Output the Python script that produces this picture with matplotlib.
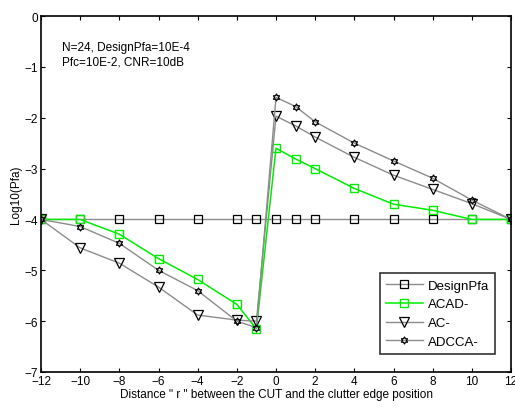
import numpy as np
import matplotlib
matplotlib.use('Agg')
import matplotlib.pyplot as plt
from matplotlib.path import Path

plt.rcParams['font.family'] = ['Liberation Sans', 'DejaVu Sans']

# distance r between CUT and clutter edge
r = [-12, -10, -8, -6, -4, -2, -1, 0, 1, 2, 4, 6, 8, 10, 12]

# log10(Pfa) for each detector
design_pfa = [-4, -4, -4, -4, -4, -4, -4, -4, -4, -4, -4, -4, -4, -4, -4]
acad = [-4.0, -4.0, -4.29, -4.77, -5.18, -5.67, -6.15, -2.6, -2.81, -3.0, -3.39, -3.7, -3.82, -4.0, -4.0]
ac = [-4.0, -4.56, -4.86, -5.33, -5.88, -5.98, -6.0, -1.97, -2.16, -2.38, -2.78, -3.13, -3.41, -3.69, -4.0]
adcca = [-4.0, -4.14, -4.47, -5.0, -5.4, -6.0, -6.13, -1.6, -1.78, -2.08, -2.5, -2.85, -3.19, -3.62, -4.0]

xticks = [-12, -10, -8, -6, -4, -2, 0, 2, 4, 6, 8, 10, 12]
yticks = [0, -1, -2, -3, -4, -5, -6, -7]

# six-point star (hexagram) marker outline
ang = np.pi / 2 + np.arange(12) * np.pi / 6
rad = np.where(np.arange(12) % 2 == 0, 1.0, 1 / np.sqrt(3))
verts = np.column_stack([rad * np.cos(ang), rad * np.sin(ang)])
verts = np.vstack([verts, verts[:1]])
hexagram = Path(verts, [Path.MOVETO] + [Path.LINETO] * 11 + [Path.CLOSEPOLY])

gray = '#8c8c8c'
green = '#00ee00'

fig = plt.figure(figsize=(5.15, 4.1), dpi=100)
ax = fig.add_axes([41 / 515, 1 - 373 / 410, 470 / 515, 356 / 410])

ax.plot(r, design_pfa, '-', color=gray, lw=1, marker='s', ms=5.5,
        mfc='none', mec='black', mew=0.9, label='DesignPfa')
ax.plot(r, acad, '-', color=green, lw=1.1, marker='s', ms=6.2,
        mfc='none', mec=green, mew=1.0, label='ACAD-')
ax.plot(r, ac, '-', color=gray, lw=1, marker='v', ms=6.5,
        mfc='none', mec='black', mew=0.9, label='AC-')
ax.plot(r, adcca, '-', color=gray, lw=1, marker=hexagram, ms=5,
        mfc='none', mec='black', mew=0.9, label='ADCCA-')

ax.set_xlim(-12, 12)
ax.set_ylim(-7, 0)
ax.set_xticks(xticks)
ax.set_yticks(yticks)
ax.tick_params(direction='in', length=3, top=True, right=True, labelsize=8.5, pad=2)
for s in ax.spines.values():
    s.set_linewidth(1.2)

ax.set_xlabel('Distance " r " between the CUT and the clutter edge position', fontsize=8.5, labelpad=1)
ax.set_ylabel('Log10(Pfa)', fontsize=8.5, labelpad=2)

ax.text(-10.93, -0.5, 'N=24, DesignPfa=10E-4\nPfc=10E-2, CNR=10dB', fontsize=8.5,
        va='top', ha='left', linespacing=1.2)

leg = ax.legend(loc='lower right', bbox_to_anchor=(495 / 470 - 41 / 470, (373 - 355) / 356),
                fontsize=9.5, frameon=True, fancybox=False, edgecolor='black',
                handlelength=2.8, borderpad=0.45, labelspacing=0.5, handletextpad=0.4,
                borderaxespad=0)
leg.get_frame().set_linewidth(1.2)

fig.savefig('out.png', dpi=100)
